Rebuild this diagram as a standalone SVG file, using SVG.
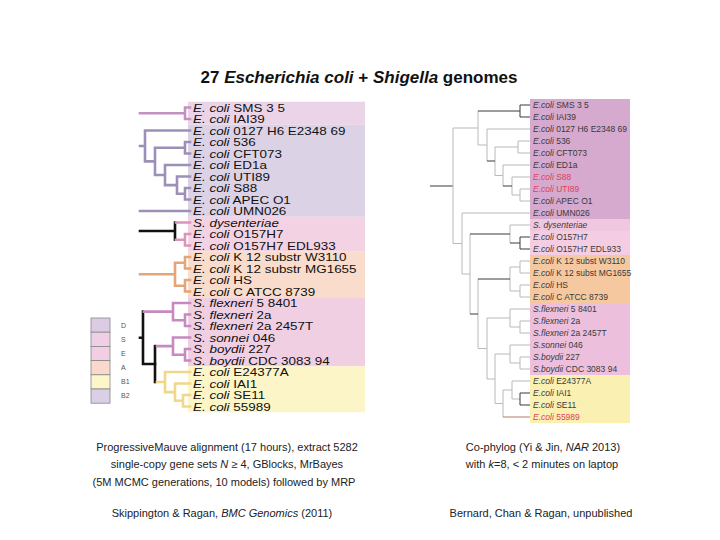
<svg xmlns="http://www.w3.org/2000/svg" width="720" height="540" viewBox="0 0 720 540">
<style>
text{font-family:"Liberation Sans",Arial,sans-serif}
.ll{font-size:11.4px;fill:#111}
.rl{font-size:8.5px;fill:#3a3a3a}
.red{fill:#e0405a}
.it{font-style:italic}
.cap{font-size:11px;fill:#222;text-anchor:middle}
.lg{font-size:7px;fill:#555}
.lt{fill:none;stroke-width:2.6;stroke-linecap:square}
.rt{fill:none;stroke:#b9b9b9;stroke-width:1}
.rd{fill:none;stroke:#3a3a3a;stroke-width:1}
.box{stroke:#888;stroke-width:0.8}
</style>
<rect width="720" height="540" fill="#fff"/>
<text x="359" y="83" font-size="17" font-weight="bold" text-anchor="middle" fill="#111">27 <tspan font-style="italic">Escherichia coli</tspan> + <tspan font-style="italic">Shigella</tspan> genomes</text>

<g id="left-bands">
<rect x="188" y="101.75" width="177" height="23" fill="#ebd4e8"/>
<rect x="188" y="124.75" width="177" height="92" fill="#dcd2e6"/>
<rect x="188" y="216.75" width="177" height="34.5" fill="#f3d3e3"/>
<rect x="188" y="251.25" width="177" height="46" fill="#f9dccb"/>
<rect x="188" y="297.25" width="177" height="69" fill="#f1cfe3"/>
<rect x="188" y="366.25" width="177" height="46" fill="#fbf5c8"/>
</g>

<g id="right-bands">
<rect x="530" y="99" width="100" height="120" fill="#d6a9ce"/>
<rect x="530" y="219" width="100" height="12" fill="#efc7df"/>
<rect x="530" y="231" width="100" height="24" fill="#f4cde3"/>
<rect x="530" y="255" width="100" height="48" fill="#f6c8a0"/>
<rect x="530" y="303" width="100" height="72" fill="#ecc0dc"/>
<rect x="530" y="375" width="100" height="48" fill="#f9f0b2"/>
</g>

<g id="connectors">
<path class="lt" stroke="#c490c0" d="M140 113.25H185M185 107.5V119M185 107.5H190M185 119H190"/>
<path class="lt" stroke="#9d90b8" d="M140 146H145M145 130.5V161.4M145 130.5H190M145 161.4H155M155 147.75V175M155 147.75H185M185 142V153.5M185 142H190M185 153.5H190M155 175H165M165 165V185.1M165 165H190M165 185.1H177M177 176.5V193.75M177 176.5H190M177 193.75H185M185 188V199.5M185 188H190M185 199.5H190M140 211H190"/>
<path class="lt" stroke="#111" d="M140 231H175M175 222.5V239.75"/>
<path class="lt" stroke="#d996b8" d="M176 222.5H190M176 239.75H185M185 234V245.5M185 234H190M185 245.5H190"/>
<path class="lt" stroke="#e3a57a" d="M140 274.25H175M175 262.75V285.75M175 262.75H185M175 285.75H185M185 257V268.5M185 257H190M185 268.5H190M185 280V291.5M185 280H190M185 291.5H190"/>
<path class="lt" stroke="#111" d="M140 337.8H143M143 311.6V364M143 364H155"/>
<path class="lt" stroke="#111" stroke-width="4" d="M155 346.1V382"/>
<path class="lt" stroke="#c68ac0" d="M144 311.6H173M173 303V320.25M173 303H190M173 320.25H185M185 314.5V326M185 314.5H190M185 326H190M157 346.1H173M173 337.5V354.75M173 337.5H190M173 354.75H185M185 349V360.5M185 349H190M185 360.5H190"/>
<path class="lt" stroke="#f0d88a" d="M157 382H165M165 372V392.1M165 372H190M165 392.1H175M175 383.5V400.75M175 383.5H190M175 400.75H183M183 395V406.5M183 395H190M183 406.5H190"/>
<path class="rd" d="M430 186H453"/>
<path class="rt" d="M453 128V243.5M453 128H478M478 111V145M478 145H487M487 129V161M487 129H530M495 147V175.5M495 147H518M518 141V153M518 141H530M518 153H530M495 175.5H503M503 165V186M503 165H530M512 177V195M512 177H530M512 195H520M520 189V201M520 189H530M520 201H530"/>
<path class="rd" d="M478 111H520M520 105V117M520 105H530M520 117H530M487 161H495M503 186H512"/>
<path class="rt" d="M453 243.5H462M462 213V274M462 213H530M462 274H470M470 234V314M510 225V243M510 225H530M478 279V348.5M510 267V291M510 267H520M510 291H520M520 261V273M520 261H530M520 273H530M520 285V297M520 285H530M520 297H530M478 348.5H487M487 318V379M487 318H510M510 309V327M510 309H530M510 327H520M520 321V333M520 321H530M520 333H530M487 379H495M495 354V403.5M495 354H510M510 345V363M510 345H530M510 363H520M520 357V369M520 357H530M520 369H530M495 403.5H503M503 390V417M503 390H512M512 381V399M512 381H530M512 399H520"/>
<path class="rd" d="M470 234H510M510 243H520M520 237V249M520 237H530M520 249H530M470 314H478M478 279H510M520 393V405M520 393H530M520 405H530"/>
<path fill="none" stroke="#b87868" stroke-width="1" d="M503 417H530"/>
</g>

<g id="legend">
<rect class="box" x="91" y="318" width="19" height="14.2" fill="#dccbe4"/>
<rect class="box" x="91" y="332.2" width="19" height="14.2" fill="#f0cfe6"/>
<rect class="box" x="91" y="346.4" width="19" height="14.2" fill="#f2cde3"/>
<rect class="box" x="91" y="360.6" width="19" height="14.2" fill="#f9d9cc"/>
<rect class="box" x="91" y="374.8" width="19" height="14.2" fill="#fdf6c8"/>
<rect class="box" x="91" y="389" width="19" height="14.2" fill="#d9cfe6"/>
<text class="lg" x="121" y="327.5">D</text>
<text class="lg" x="121" y="341.5">S</text>
<text class="lg" x="121" y="355.5">E</text>
<text class="lg" x="121" y="369.5">A</text>
<text class="lg" x="121" y="384">B1</text>
<text class="lg" x="121" y="398">B2</text>
</g>

<g id="left-labels" transform="translate(193 0) scale(1.18 1)">
<g id="L0"><text class="ll" x="0" y="111.8"><tspan class="it">E. coli</tspan> SMS 3 5</text></g>
<g id="L1"><text class="ll" x="0" y="123.3"><tspan class="it">E. coli</tspan> IAI39</text></g>
<g id="L2"><text class="ll" x="0" y="134.8"><tspan class="it">E. coli</tspan> 0127 H6 E2348 69</text></g>
<g id="L3"><text class="ll" x="0" y="146.3"><tspan class="it">E. coli</tspan> 536</text></g>
<g id="L4"><text class="ll" x="0" y="157.8"><tspan class="it">E. coli</tspan> CFT073</text></g>
<g id="L5"><text class="ll" x="0" y="169.3"><tspan class="it">E. coli</tspan> ED1a</text></g>
<g id="L6"><text class="ll" x="0" y="180.8"><tspan class="it">E. coli</tspan> UTI89</text></g>
<g id="L7"><text class="ll" x="0" y="192.3"><tspan class="it">E. coli</tspan> S88</text></g>
<g id="L8"><text class="ll" x="0" y="203.8"><tspan class="it">E. coli</tspan> APEC O1</text></g>
<g id="L9"><text class="ll" x="0" y="215.3"><tspan class="it">E. coli</tspan> UMN026</text></g>
<g id="L10"><text class="ll it" x="0" y="226.8">S. dysenteriae</text></g>
<g id="L11"><text class="ll" x="0" y="238.3"><tspan class="it">E. coli</tspan> O157H7</text></g>
<g id="L12"><text class="ll" x="0" y="249.8"><tspan class="it">E. coli</tspan> O157H7 EDL933</text></g>
<g id="L13"><text class="ll" x="0" y="261.3"><tspan class="it">E. coli</tspan> K 12 substr W3110</text></g>
<g id="L14"><text class="ll" x="0" y="272.8"><tspan class="it">E. coli</tspan> K 12 substr MG1655</text></g>
<g id="L15"><text class="ll" x="0" y="284.3"><tspan class="it">E. coli</tspan> HS</text></g>
<g id="L16"><text class="ll" x="0" y="295.8"><tspan class="it">E. coli</tspan> C ATCC 8739</text></g>
<g id="L17"><text class="ll" x="0" y="307.3"><tspan class="it">S. flexneri</tspan> 5 8401</text></g>
<g id="L18"><text class="ll" x="0" y="318.8"><tspan class="it">S. flexneri</tspan> 2a</text></g>
<g id="L19"><text class="ll" x="0" y="330.3"><tspan class="it">S. flexneri</tspan> 2a 2457T</text></g>
<g id="L20"><text class="ll" x="0" y="341.8"><tspan class="it">S. sonnei</tspan> 046</text></g>
<g id="L21"><text class="ll" x="0" y="353.3"><tspan class="it">S. boydii</tspan> 227</text></g>
<g id="L22"><text class="ll" x="0" y="364.8"><tspan class="it">S. boydii</tspan> CDC 3083 94</text></g>
<g id="L23"><text class="ll" x="0" y="376.3"><tspan class="it">E. coli</tspan> E24377A</text></g>
<g id="L24"><text class="ll" x="0" y="387.8"><tspan class="it">E. coli</tspan> IAI1</text></g>
<g id="L25"><text class="ll" x="0" y="399.3"><tspan class="it">E. coli</tspan> SE11</text></g>
<g id="L26"><text class="ll" x="0" y="410.8"><tspan class="it">E. coli</tspan> 55989</text></g>
</g>

<g id="right-labels">
<g id="R0"><text class="rl" x="533" y="108"><tspan class="it">E.coli</tspan> SMS 3 5</text></g>
<g id="R1"><text class="rl" x="533" y="120"><tspan class="it">E.coli</tspan> IAI39</text></g>
<g id="R2"><text class="rl" x="533" y="132"><tspan class="it">E.coli</tspan> 0127 H6 E2348 69</text></g>
<g id="R3"><text class="rl" x="533" y="144"><tspan class="it">E.coli</tspan> 536</text></g>
<g id="R4"><text class="rl" x="533" y="156"><tspan class="it">E.coli</tspan> CFT073</text></g>
<g id="R5"><text class="rl" x="533" y="168"><tspan class="it">E.coli</tspan> ED1a</text></g>
<g id="R6"><text class="rl red" x="533" y="180"><tspan class="it">E.coli</tspan> S88</text></g>
<g id="R7"><text class="rl red" x="533" y="192"><tspan class="it">E.coli</tspan> UTI89</text></g>
<g id="R8"><text class="rl" x="533" y="204"><tspan class="it">E.coli</tspan> APEC O1</text></g>
<g id="R9"><text class="rl" x="533" y="216"><tspan class="it">E.coli</tspan> UMN026</text></g>
<g id="R10"><text class="rl it" x="533" y="228">S. dysenteriae</text></g>
<g id="R11"><text class="rl" x="533" y="240"><tspan class="it">E.coli</tspan> O157H7</text></g>
<g id="R12"><text class="rl" x="533" y="252"><tspan class="it">E.coli</tspan> O157H7 EDL933</text></g>
<g id="R13"><text class="rl" x="533" y="264"><tspan class="it">E.coli</tspan> K 12 subst W3110</text></g>
<g id="R14"><text class="rl" x="533" y="276"><tspan class="it">E.coli</tspan> K 12 subst MG1655</text></g>
<g id="R15"><text class="rl" x="533" y="288"><tspan class="it">E.coli</tspan> HS</text></g>
<g id="R16"><text class="rl" x="533" y="300"><tspan class="it">E.coli</tspan> C ATCC 8739</text></g>
<g id="R17"><text class="rl" x="533" y="312"><tspan class="it">S.flexneri</tspan> 5 8401</text></g>
<g id="R18"><text class="rl" x="533" y="324"><tspan class="it">S.flexneri</tspan> 2a</text></g>
<g id="R19"><text class="rl" x="533" y="336"><tspan class="it">S.flexneri</tspan> 2a 2457T</text></g>
<g id="R20"><text class="rl" x="533" y="348"><tspan class="it">S.sonnei</tspan> 046</text></g>
<g id="R21"><text class="rl" x="533" y="360"><tspan class="it">S.boydii</tspan> 227</text></g>
<g id="R22"><text class="rl" x="533" y="372"><tspan class="it">S.boydii</tspan> CDC 3083 94</text></g>
<g id="R23"><text class="rl" x="533" y="384"><tspan class="it">E.coli</tspan> E24377A</text></g>
<g id="R24"><text class="rl" x="533" y="396"><tspan class="it">E.coli</tspan> IAI1</text></g>
<g id="R25"><text class="rl" x="533" y="408"><tspan class="it">E.coli</tspan> SE11</text></g>
<g id="R26"><text class="rl red" x="533" y="420"><tspan class="it">E.coli</tspan> 55989</text></g>
</g>

<g id="captions">
<text class="cap" x="227" y="451">ProgressiveMauve alignment (17 hours), extract 5282</text>
<text class="cap" x="227" y="468">single-copy gene sets <tspan class="it">N</tspan> ≥ 4, GBlocks, MrBayes</text>
<text class="cap" x="224" y="486">(5M MCMC generations, 10 models) followed by MRP</text>
<text class="cap" x="222" y="517">Skippington &amp; Ragan, <tspan class="it">BMC Genomics</tspan> (2011)</text>
<text class="cap" x="543" y="451">Co-phylog (Yi &amp; Jin, <tspan class="it">NAR</tspan> 2013)</text>
<text class="cap" x="542" y="468">with <tspan class="it">k</tspan>=8, &lt; 2 minutes on laptop</text>
<text class="cap" x="541" y="517">Bernard, Chan &amp; Ragan, unpublished</text>
</g>
</svg>
